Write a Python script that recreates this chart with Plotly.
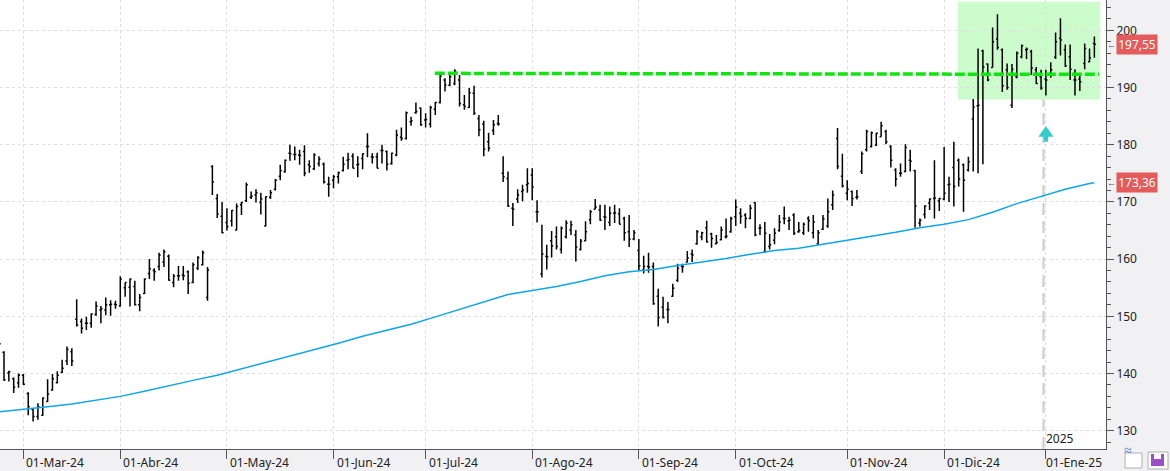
import pandas as pd
import plotly.graph_objects as go

# ---------------- data ----------------
holidays = ["2024-03-29", "2024-05-27", "2024-06-19", "2024-07-04", "2024-09-02",
            "2024-11-28", "2024-12-25", "2025-01-01", "2025-01-09"]
dates = [d.strftime("%Y-%m-%d") for d in pd.bdate_range("2024-02-23", "2025-01-17")
         if d.strftime("%Y-%m-%d") not in holidays]

opens = [145.5, 143.7, 140.1, 139.1, 138.4, 139.7, 136.5, 133.7, 132.5, 132.7,
         135.1, 137.1, 138.4, 140.2, 142.2, 143.8, 149.5, 149.1, 148.8, 148.8,
         150.3, 151.1, 151.1, 152.0, 152.1, 151.8, 155.0, 155.1, 155.2, 152.0,
         154.0, 157.5, 158.0, 158.7, 159.5, 160.5, 155.9, 157.1, 157.2, 157.8,
         155.9, 158.4, 159.0, 153.3, 176.2, 170.6, 167.5, 166.4, 166.7, 165.1,
         169.5, 170.2, 170.8, 171.2, 169.9, 165.8, 170.8, 172.2, 174.5, 175.3,
         178.5, 178.3, 178.2, 178.8, 176.5, 175.8, 176.7, 176.6, 173.1, 173.8,
         174.4, 175.5, 177.3, 178.0, 176.5, 177.6, 179.7, 177.9, 177.9, 179.0,
         178.8, 176.7, 178.2, 181.3, 181.1, 184.0, 185.6, 186.4, 184.3, 183.6,
         186.2, 187.4, 191.3, 190.4, 190.7, 191.3, 187.0, 186.5, 189.0, 184.6,
         183.6, 180.5, 182.5, 183.7, 175.0, 174.1, 168.9, 170.5, 171.8, 173.0,
         174.7, 168.3, 157.4, 160.5, 163.2, 163.9, 161.7, 163.9, 165.1, 164.2,
         161.7, 163.2, 166.9, 168.7, 168.6, 167.4, 166.4, 168.0, 167.9, 167.1,
         164.8, 163.5, 161.5, 158.1, 158.7, 158.7, 153.5, 151.6, 151.2, 153.5,
         156.3, 158.7, 159.5, 160.9, 162.7, 163.9, 165.5, 164.4, 162.7, 163.4,
         163.9, 164.8, 167.4, 168.0, 167.7, 167.1, 169.9, 165.4, 161.3, 162.2,
         163.3, 165.0, 167.1, 166.7, 167.7, 164.8, 164.6, 167.1, 164.6, 162.7,
         165.2, 165.8, 169.5, 181.1, 174.5, 171.5, 171.8, 170.8, 175.3, 179.1,
         179.7, 179.9, 181.4, 182.3, 179.7, 175.6, 175.0, 175.3, 177.3, 175.5,
         166.3, 167.8, 169.8, 170.6, 170.2, 170.5, 173.0, 176.0, 177.3, 176.5,
         175.6, 184.5, 186.8, 196.4, 194.1, 193.5, 198.5, 196.6, 193.1, 186.9,
         191.9, 195.4, 196.6, 196.3, 193.1, 191.9, 191.5, 192.5, 195.3, 198.6,
         196.6, 195.4, 191.3, 191.5, 194.2, 194.5, 197.7]
highs = [146.5, 143.9, 140.5, 139.3, 140.0, 139.9, 136.7, 133.9, 134.8, 135.8,
         139.0, 139.9, 140.4, 142.4, 144.7, 144.4, 153.0, 149.6, 149.9, 150.5,
         152.6, 151.8, 153.3, 152.8, 152.7, 157.0, 155.9, 156.6, 156.2, 153.9,
         156.6, 160.0, 158.4, 161.1, 161.7, 160.8, 157.4, 158.8, 158.8, 158.0,
         159.4, 160.5, 161.5, 158.6, 176.4, 171.4, 170.0, 168.9, 168.6, 169.7,
         170.0, 173.4, 171.8, 172.2, 171.6, 171.0, 172.1, 174.0, 176.5, 177.4,
         180.0, 179.7, 179.1, 179.9, 177.3, 178.5, 178.0, 176.9, 174.4, 174.7,
         175.3, 177.9, 178.6, 178.5, 178.0, 178.5, 182.0, 178.5, 178.6, 180.0,
         179.0, 178.6, 182.6, 183.0, 185.8, 184.9, 187.4, 186.5, 185.5, 186.8,
         187.5, 192.2, 191.6, 192.4, 193.2, 192.2, 188.7, 189.9, 190.3, 185.2,
         184.2, 182.1, 184.3, 185.2, 178.0, 175.3, 169.8, 172.2, 173.0, 175.9,
         175.9, 170.3, 166.0, 162.5, 164.9, 165.7, 165.7, 166.8, 166.7, 165.1,
         163.5, 166.6, 168.6, 170.5, 169.5, 169.5, 169.2, 169.5, 168.9, 167.4,
         167.7, 165.1, 163.5, 160.6, 161.1, 159.4, 154.8, 153.4, 152.5, 155.7,
         159.2, 159.2, 161.4, 161.7, 165.1, 164.8, 166.7, 164.6, 164.2, 165.7,
         167.1, 167.4, 170.4, 168.9, 168.0, 169.5, 170.0, 166.1, 166.5, 164.4,
         165.4, 167.7, 169.2, 167.4, 168.0, 166.5, 166.4, 167.5, 167.7, 165.1,
         167.7, 170.6, 172.0, 182.9, 178.4, 173.8, 172.0, 172.1, 178.8, 182.6,
         182.3, 182.1, 184.0, 182.6, 179.9, 175.9, 176.7, 180.1, 179.1, 175.6,
         167.1, 169.4, 170.6, 177.3, 170.7, 179.6, 174.4, 180.5, 177.6, 176.7,
         177.9, 188.0, 196.8, 196.6, 194.2, 200.5, 202.8, 196.8, 194.2, 194.1,
         196.3, 197.5, 197.0, 196.6, 193.6, 193.1, 193.1, 194.4, 199.6, 202.1,
         197.5, 197.5, 193.2, 192.2, 197.7, 196.8, 198.9]
lows = [144.3, 138.7, 138.6, 136.6, 137.5, 138.0, 132.7, 131.6, 131.9, 132.6,
        135.0, 137.0, 138.3, 140.1, 141.5, 141.3, 148.2, 147.0, 147.6, 148.0,
        150.1, 148.8, 150.2, 150.1, 151.3, 151.7, 153.4, 151.7, 151.9, 150.9,
        153.9, 156.5, 156.2, 158.0, 158.6, 156.2, 155.1, 156.2, 156.3, 153.9,
        155.8, 158.1, 158.9, 152.7, 171.2, 167.2, 164.5, 165.0, 165.7, 165.0,
        167.7, 170.0, 170.5, 169.9, 167.8, 165.7, 170.5, 172.0, 173.8, 175.1,
        177.2, 177.3, 176.5, 174.5, 175.1, 175.6, 176.2, 173.2, 170.9, 172.4,
        173.2, 175.3, 175.7, 175.9, 174.3, 175.7, 177.8, 176.7, 175.9, 176.7,
        175.5, 176.5, 178.0, 180.7, 180.9, 183.3, 185.4, 183.3, 183.0, 183.0,
        185.2, 187.2, 189.3, 190.2, 190.4, 186.7, 186.1, 186.4, 185.2, 181.5,
        178.0, 178.8, 181.7, 183.3, 173.5, 169.1, 165.8, 169.8, 170.1, 171.6,
        170.3, 166.4, 156.8, 158.2, 160.3, 161.7, 161.0, 163.6, 164.2, 159.6,
        161.5, 163.1, 166.1, 168.7, 166.7, 165.1, 165.8, 166.3, 166.1, 163.2,
        162.1, 163.3, 158.0, 157.5, 157.6, 152.0, 148.2, 149.6, 148.8, 153.4,
        156.0, 157.6, 159.4, 159.5, 162.5, 163.3, 162.9, 162.0, 162.6, 163.3,
        163.6, 164.6, 165.8, 166.2, 165.4, 167.0, 164.0, 164.2, 161.1, 161.7,
        162.6, 164.8, 166.1, 165.1, 164.2, 164.6, 164.2, 164.8, 163.6, 162.6,
        165.1, 165.5, 168.6, 175.7, 172.5, 170.3, 169.3, 170.4, 174.9, 178.8,
        179.5, 179.8, 181.4, 180.1, 176.0, 172.7, 174.4, 175.2, 175.3, 165.5,
        165.7, 167.1, 168.6, 167.1, 168.4, 170.3, 170.0, 169.2, 172.7, 168.3,
        175.3, 175.3, 175.0, 176.6, 191.1, 193.5, 196.6, 189.2, 189.6, 186.4,
        191.6, 195.1, 195.0, 192.2, 190.6, 189.6, 188.6, 191.7, 195.0, 195.6,
        193.6, 191.3, 188.6, 189.4, 193.2, 194.4, 195.2]
closes = [145.2, 138.9, 140.3, 137.6, 139.7, 138.1, 134.2, 132.5, 134.2, 135.7,
          136.4, 139.1, 139.7, 140.9, 144.2, 142.2, 148.5, 147.9, 148.8, 150.4,
          151.8, 151.3, 152.0, 152.1, 152.0, 156.5, 155.9, 156.5, 152.0, 153.3,
          156.5, 158.3, 157.8, 160.7, 161.3, 156.3, 157.0, 157.1, 157.1, 155.8,
          159.0, 160.3, 161.1, 158.1, 173.5, 167.9, 164.6, 165.7, 168.5, 169.2,
          169.9, 173.0, 171.0, 171.6, 170.5, 170.9, 171.6, 173.8, 175.5, 177.3,
          178.4, 178.3, 178.1, 175.0, 176.2, 178.2, 177.5, 173.5, 173.1, 174.4,
          175.1, 176.6, 177.4, 175.9, 176.6, 178.4, 179.7, 177.8, 175.9, 179.0,
          176.6, 178.5, 181.7, 181.1, 185.6, 184.2, 185.8, 183.5, 184.4, 186.5,
          187.4, 192.0, 190.4, 191.9, 192.9, 187.2, 186.7, 189.1, 185.5, 182.6,
          179.2, 179.4, 183.5, 183.6, 174.4, 169.3, 168.7, 171.2, 172.1, 173.2,
          172.6, 168.3, 160.9, 160.4, 162.3, 162.2, 165.4, 166.3, 166.0, 162.1,
          163.1, 164.8, 168.3, 169.1, 166.8, 167.3, 168.0, 168.1, 166.1, 164.6,
          163.5, 164.6, 158.8, 158.7, 158.6, 152.2, 149.8, 149.8, 151.2, 154.9,
          158.4, 158.7, 160.2, 160.7, 164.8, 164.6, 163.0, 163.6, 162.9, 165.1,
          164.0, 167.1, 169.1, 167.5, 167.1, 168.9, 164.2, 165.5, 164.5, 162.5,
          164.5, 166.5, 167.1, 166.8, 164.5, 165.0, 166.1, 166.7, 166.5, 164.6,
          167.0, 168.3, 171.2, 176.2, 172.8, 172.2, 170.6, 170.9, 178.4, 182.3,
          182.1, 182.0, 183.3, 180.5, 177.3, 174.0, 175.0, 179.5, 177.1, 169.3,
          166.8, 169.3, 170.5, 170.7, 170.6, 171.5, 173.1, 172.7, 174.0, 173.8,
          177.0, 186.6, 186.9, 193.6, 191.3, 198.0, 197.0, 190.3, 190.0, 193.2,
          196.0, 197.3, 196.7, 193.4, 190.7, 189.9, 191.3, 193.1, 198.0, 198.3,
          193.8, 193.2, 191.3, 191.0, 196.8, 195.2, 197.55]

# moving average (every 5th session + last)
ma_index = [0, 5, 10, 15, 20, 25, 30, 35, 40, 45, 50, 55, 60, 65, 70, 75, 80, 85,
            90, 95, 100, 105, 110, 115, 120, 125, 130, 135, 140, 145, 150, 155, 160,
            165, 170, 175, 180, 185, 190, 195, 200, 205, 210, 215, 220, 225, 226]
ma_values = [133.3, 133.8, 134.2, 134.65, 135.3, 136.0, 136.9, 137.9, 138.8, 139.7,
             140.8, 141.9, 143.0, 144.1, 145.3, 146.5, 147.6, 148.6, 149.9, 151.2,
             152.6, 153.8, 154.5, 155.2, 156.1, 157.1, 157.8, 158.2, 158.9, 159.5,
             160.1, 160.85, 161.5, 161.9, 162.6, 163.2, 163.9, 164.7, 165.5, 166.1,
             166.9, 168.2, 169.7, 170.9, 172.2, 173.2, 173.36]
ma_dates = [dates[i] for i in ma_index]

month_starts = ["2024-03-01", "2024-04-01", "2024-05-01", "2024-06-03", "2024-07-01",
                "2024-08-01", "2024-09-03", "2024-10-01", "2024-11-01", "2024-12-02",
                "2025-01-02"]
month_labels = ["01-Mar-24", "01-Abr-24", "01-May-24", "01-Jun-24", "01-Jul-24",
                "01-Ago-24", "01-Sep-24", "01-Oct-24", "01-Nov-24", "01-Dic-24",
                "01-Ene-25"]

resistance_start, resistance_end = 89.9, 226.95
resistance_levels = [192.48, 192.3]
zone_x = [197.85, 227.2]
zone_y = [187.9, 205.0]
year_sep = 215.5
arrow_at = 216.0
arrow_y = [180.5, 181.4, 183.27]
last_close = closes[-1]
last_ma = ma_values[-1]

FONT = "Noto Sans"

fig = go.Figure()
fig.add_trace(go.Ohlc(x=dates, open=opens, high=highs, low=lows, close=closes,
                      increasing=dict(line=dict(color="black", width=1.5)),
                      decreasing=dict(line=dict(color="black", width=1.5)),
                      tickwidth=0.32, showlegend=False))
fig.add_trace(go.Scatter(x=ma_dates, y=ma_values, mode="lines",
                         line=dict(color="#0ea5e9", width=1.5), hoverinfo="skip",
                         showlegend=False))

shapes = [
    dict(type="rect", xref="x", yref="y", x0=zone_x[0], x1=zone_x[1], y0=zone_y[0], y1=zone_y[1],
         fillcolor="#ccfccc", line=dict(width=0), layer="below"),
    dict(type="line", xref="x", yref="paper", x0=year_sep, x1=year_sep, y0=0, y1=1,
         line=dict(color="#cacaca", width=2, dash="12px,6px"), layer="below"),
    dict(type="line", xref="x", yref="y", x0=resistance_start, x1=resistance_end,
         y0=resistance_levels[0], y1=resistance_levels[1],
         line=dict(color="#11e411", width=3.5, dash="10px,3px"), layer="above"),
    dict(type="path", xref="x", yref="y",
         path=(f"M {arrow_at-1.55},{arrow_y[1]} L {arrow_at},{arrow_y[2]} L {arrow_at+1.55},{arrow_y[1]} "
               f"L {arrow_at+0.45},{arrow_y[1]} L {arrow_at+0.45},{arrow_y[0]} "
               f"L {arrow_at-0.45},{arrow_y[0]} L {arrow_at-0.45},{arrow_y[1]} Z"),
         fillcolor="#33cccc", line=dict(width=0), layer="above"),
    # bottom-right buttons
    dict(type="rect", xref="paper", yref="paper", x0=1125/1106, x1=1142/1106, y0=-19/449, y1=-4/449,
         fillcolor="white", line=dict(color="#b0b0b0", width=1)),
    dict(type="rect", xref="paper", yref="paper", x0=1148/1106, x1=1168/1106, y0=-20/449, y1=-3/449,
         fillcolor="white", line=dict(color="#b0b0b0", width=1)),
    dict(type="rect", xref="paper", yref="paper", x0=1151/1106, x1=1164/1106, y0=-17/449, y1=-5/449,
         fillcolor="#9b4fc8", line=dict(width=0)),
    dict(type="rect", xref="paper", yref="paper", x0=1154/1106, x1=1161/1106, y0=-10/449, y1=-5/449,
         fillcolor="white", line=dict(width=0)),
]

annotations = []
for d, lab in zip(month_starts, month_labels):
    annotations.append(dict(x=dates.index(d) - (0.5 if d.startswith("2025") else 0), xref="x",
                            y=0, yref="paper", text=lab, showarrow=False,
                            xanchor="left", yanchor="top", xshift=1, yshift=-3,
                            font=dict(family=FONT, size=12, color="#222")))
annotations.append(dict(x=year_sep, xref="x", y=0, yref="paper", text="2025", showarrow=False,
                        xanchor="left", yanchor="bottom", xshift=1, yshift=0,
                        font=dict(family=FONT, size=12, color="#222")))
for val, lab in [(last_close, "197,55"), (last_ma, "173,36")]:
    annotations.append(dict(x=1, xref="paper", y=val, yref="y", text=lab, showarrow=False,
                            xanchor="left", yanchor="middle", xshift=10, width=36, height=15,
                            bgcolor="#e35b5b", borderpad=2,
                            font=dict(family=FONT, size=12, color="white")))
    annotations.append(dict(x=1, xref="paper", y=val, yref="y", text="←", showarrow=False,
                            xanchor="left", yanchor="middle", xshift=-1,
                            font=dict(family=FONT, size=9, color="#555")))
annotations.append(dict(x=1133.5/1106, xref="paper", y=-11.5/449, yref="paper", text="≈",
                        showarrow=False, font=dict(family=FONT, size=14, color="#3a7fd5")))

fig.update_layout(
    width=1170, height=471,
    margin=dict(l=0, r=64, t=0, b=22, pad=0),
    paper_bgcolor="#f1f1f3", plot_bgcolor="white",
    font=dict(family=FONT, size=12, color="#222"),
    shapes=shapes, annotations=annotations,
    showlegend=False, hovermode=False,
    xaxis=dict(type="category", categoryorder="array", categoryarray=dates,
               range=[0.175, 228.4], tickmode="array", tickvals=month_starts,
               showticklabels=False, ticks="outside", ticklen=9, tickcolor="#555",
               showgrid=True, gridcolor="#dedede", griddash="3px,3px", gridwidth=1,
               showline=True, linecolor="#555", linewidth=1, zeroline=False,
               rangeslider=dict(visible=False), automargin=False),
    yaxis=dict(side="right", range=[126.8, 205.3], tickmode="linear", tick0=0, dtick=10,
               ticks="outside", ticklen=7, tickcolor="#555",
               minor=dict(tickmode="linear", tick0=0, dtick=2, ticks="outside", ticklen=4,
                          tickcolor="#555", showgrid=False),
               showgrid=True, gridcolor="#dedede", griddash="3px,3px", gridwidth=1,
               showline=True, linecolor="#555", linewidth=1, zeroline=False,
               tickfont=dict(family=FONT, size=12, color="#222"), automargin=False),
)

fig.write_html("out.html")
